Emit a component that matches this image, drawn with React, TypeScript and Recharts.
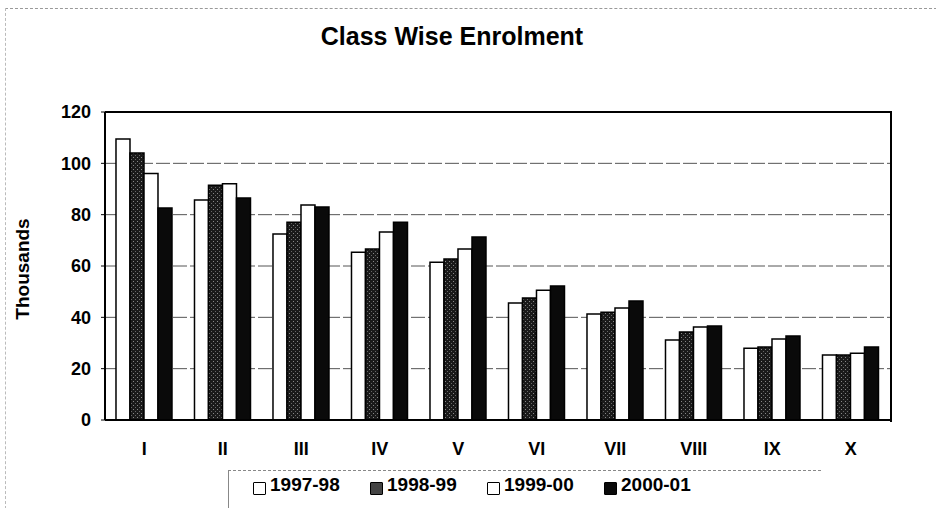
import React from "react";
import {
  BarChart,
  Bar,
  XAxis,
  YAxis,
  CartesianGrid,
} from "recharts";

const classes = ["I", "II", "III", "IV", "V", "VI", "VII", "VIII", "IX", "X"];
const y1997 = [109.5, 85.7, 72.5, 65.4, 61.5, 45.6, 41.3, 31.2, 28.0, 25.3];
const y1998 = [104.0, 91.5, 77.0, 66.6, 62.7, 47.5, 42.0, 34.3, 28.4, 25.3];
const y1999 = [96.0, 92.0, 83.8, 73.2, 66.6, 50.6, 43.6, 36.2, 31.6, 26.0];
const y2000 = [82.6, 86.5, 83.0, 77.0, 71.3, 52.2, 46.4, 36.6, 32.7, 28.4];
const yTicks = [0, 20, 40, 60, 80, 100, 120];

const seriesNames = ["1997-98", "1998-99", "1999-00", "2000-01"];
const fills = ["#ffffff", "url(#stipple)", "#ffffff", "#0a0a0a"];
const legendFills = ["#ffffff", "#444", "#ffffff", "#0a0a0a"];

const data = classes.map((c, i) => ({
  name: c,
  "1997-98": y1997[i],
  "1998-99": y1998[i],
  "1999-00": y1999[i],
  "2000-01": y2000[i],
}));

const font = "'Liberation Sans', Arial, sans-serif";

function LegendBox() {
  return (
    <div
      style={{
        position: "absolute",
        left: 253,
        top: 474,
        display: "flex",
        fontFamily: font,
        fontWeight: "bold",
        fontSize: 19,
        color: "#000",
      }}
    >
      {seriesNames.map((s, i) => (
        <div
          key={s}
          style={{ display: "flex", alignItems: "center", width: 117 }}
        >
          <span
            style={{
              display: "inline-block",
              width: 11,
              height: 11,
              border: "1.5px solid #000",
              borderRadius: 1,
              background: legendFills[i],
              marginRight: 4,
              marginTop: 6,
            }}
          />
          {s}
        </div>
      ))}
    </div>
  );
}

export default function App() {
  return (
    <div style={{ position: "relative", width: 936, height: 508, background: "#fff" }}>
      <style>{"body{margin:0}"}</style>
      <div
        style={{
          position: "absolute",
          left: 5,
          top: 8,
          width: 931,
          height: 500,
          borderTop: "1px dashed #999",
          borderLeft: "1px dashed #bbb",
        }}
      />
      <div
        style={{
          position: "absolute",
          top: 22,
          left: 0,
          width: 904,
          textAlign: "center",
          fontFamily: font,
          fontWeight: "bold",
          fontSize: 25,
        }}
      >
        Class Wise Enrolment
      </div>
      <div
        style={{
          position: "absolute",
          left: 23,
          top: 269,
          transform: "translate(-50%, -50%) rotate(-90deg)",
          transformOrigin: "center",
          fontFamily: font,
          fontWeight: "bold",
          fontSize: 19,
          whiteSpace: "nowrap",
        }}
      >
        Thousands
      </div>
      <div
        style={{
          position: "absolute",
          left: 228,
          top: 470,
          width: 592,
          height: 38,
          borderTop: "1px dashed #888",
          borderLeft: "1px solid #888",
        }}
      />
      <BarChart
        width={936}
        height={508}
        data={data}
        margin={{ top: 112, right: 46, left: 45, bottom: 58 }}
        barGap={0}
        barCategoryGap="14%"
      >
        <defs>
          <pattern id="stipple" width="4" height="4" patternUnits="userSpaceOnUse">
            <rect width="4" height="4" fill="#1a1a1a" />
            <rect x="1" y="1" width="1" height="1" fill="#888" />
            <rect x="3" y="3" width="1" height="1" fill="#666" />
          </pattern>
        </defs>
        <CartesianGrid
          vertical={false}
          stroke="#555"
          strokeDasharray="14 3"
        />
        <XAxis
          dataKey="name"
          tickLine={false}
          axisLine={{ stroke: "#000", strokeWidth: 2 }}
          tick={{ fill: "#000", fontFamily: font, fontWeight: "bold", fontSize: 18 }}
          tickMargin={16}
        />
        <YAxis
          domain={[0, 120]}
          ticks={yTicks}
          width={60}
          axisLine={{ stroke: "#000", strokeWidth: 2 }}
          tickLine={{ stroke: "#000" }}
          tickSize={4}
          tick={{ fill: "#000", fontFamily: font, fontWeight: "bold", fontSize: 18 }}
          tickMargin={10}
        />
        {seriesNames.map((s, i) => (
          <Bar
            key={s}
            dataKey={s}
            fill={fills[i]}
            stroke="#000"
            strokeWidth={1.5}
            isAnimationActive={false}
          />
        ))}
      </BarChart>
      <LegendBox />
      <div
        style={{
          position: "absolute",
          left: 105,
          top: 111,
          width: 785,
          height: 309,
          borderTop: "2px solid #000",
          borderRight: "2px solid #000",
          pointerEvents: "none",
        }}
      />
    </div>
  );
}
